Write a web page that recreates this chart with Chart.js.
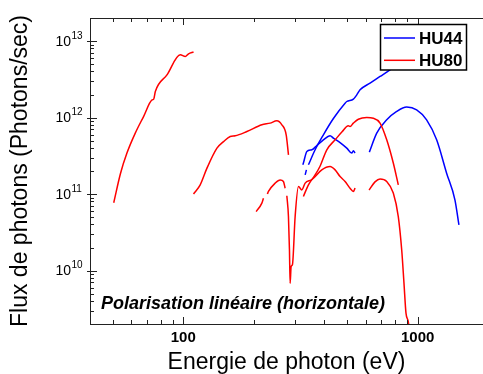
<!DOCTYPE html>
<html>
<head>
<meta charset="utf-8">
<script src="https://cdn.jsdelivr.net/npm/chart.js@4/dist/chart.umd.min.js"></script>
<style>
  html, body { margin: 0; padding: 0; background: #fff; }
  canvas { display: block; }
</style>
</head>
<body>
<canvas id="fluxChart" width="483" height="374"></canvas>
<script>
// axis limits
const xRange = [40, 1900];
const yRange = [2e9, 2e13];

// ticks and labels
const xMajorTicks = [100, 1000];
const xMinorTicks = [50, 60, 70, 80, 90, 200, 300, 400, 500, 600, 700, 800, 900];
const xTickLabels = ['100', '1000'];
const yMajorTicks = [1e10, 1e11, 1e12, 1e13];
const yMinorTicks = [3e9, 4e9, 5e9, 6e9, 7e9, 8e9, 9e9,
    2e10, 3e10, 4e10, 5e10, 6e10, 7e10, 8e10, 9e10,
    2e11, 3e11, 4e11, 5e11, 6e11, 7e11, 8e11, 9e11,
    2e12, 3e12, 4e12, 5e12, 6e12, 7e12, 8e12, 9e12];
const yTickExponents = ['10', '11', '12', '13'];

const seriesNames = ['HU44', 'HU80'];
const seriesColors = ['#0000ff', '#ff0000'];

// HU80 segments: energy (eV) / flux (photons/s)
const hu80_1_E = [50.5, 54.0, 57.5, 62.4, 67.7, 73.6, 74.8, 76.0, 85.2, 97.1, 102, 105.3, 110.6];
const hu80_1_F = [7.7e10, 1.87e11, 3.43e11, 6.25e11, 1.03e12, 1.70e12, 1.74e12, 2.19e12, 3.61e12, 6.6e12, 6.27e12, 6.81e12, 7.2e12];

const hu80_2_E = [110.6, 118.1, 126.2, 139.2, 148.5, 158.6, 166.6, 186.8, 216.4, 234.8, 250.7, 263.4, 274.8, 281.1];
const hu80_2_F = [1.0e11, 1.32e11, 2.18e11, 3.98e11, 4.85e11, 5.65e11, 5.77e11, 6.56e11, 8.03e11, 8.45e11, 9.06e11, 8.03e11, 5.94e11, 3.25e11];

const hu80_3a_E = [204.7, 216.4, 219.8];
const hu80_3a_F = [5.9e10, 7.6e10, 8.8e10];

const hu80_3b_E = [228.5, 230.9, 246.6, 259.0, 267.5, 272.0];
const hu80_3b_F = [1.0e11, 1.08e11, 1.39e11, 1.53e11, 1.46e11, 1.19e11];

const hu80_3c_E = [276.6, 281.0, 283.8, 285.7, 288.5, 292.2, 300.1, 310.0, 320.5, 331.1, 352.0, 359.2, 389.9, 423.0, 444.4, 466.7, 490.1, 514.7, 531.7, 540.7];
const hu80_3c_F = [9.5e10, 5.08e10, 1.87e10, 6.8e9, 1.13e10, 1.19e10, 5.08e10, 1.25e11, 1.13e11, 1.39e11, 1.53e11, 1.61e11, 2.07e11, 2.29e11, 2.07e11, 1.69e11, 1.46e11, 1.19e11, 1.08e11, 1.2e11];

const hu80_4_E = [325.5, 342.0, 365.2, 382.8, 409.6, 444.4, 475.9, 506.2, 514.7, 531.7, 558.4, 606.5, 646.9, 691.0, 737.9, 787.1, 826.7];
const hu80_4_F = [9.3e10, 1.32e11, 1.78e11, 2.29e11, 3.79e11, 5.11e11, 6.5e11, 7.8e11, 7.63e11, 8.45e11, 9.5e11, 1.0e12, 9.8e11, 8.45e11, 5.11e11, 2.54e11, 1.32e11];

const hu80_5_E = [620.3, 657.7, 691.0, 737.9, 787.1, 826.7, 854.8, 874.3, 891.6, 912, 925];
const hu80_5_F = [1.13e11, 1.44e11, 1.57e11, 1.46e11, 1.03e11, 5.08e10, 1.87e10, 6.8e9, 2.77e9, 2.15e9, 1.5e9];

// HU44 segments
const hu44_1a_E = [331.1, 335.3];
const hu44_1a_F = [1.78e11, 2.07e11];

const hu44_1b_E = [342.0, 365.2, 396.1, 437.0, 490.1, 498.4, 531.7, 549.8, 567.9, 626.4, 691.0, 762.1, 840.6, 973.8];
const hu44_1b_F = [2.41e11, 3.79e11, 5.94e11, 9.7e11, 1.54e12, 1.62e12, 1.74e12, 1.98e12, 2.30e12, 2.82e12, 3.44e12, 4.20e12, 5.2e12, 6.6e12];

const hu44_2_E = [323.6, 325.5, 336.7, 353.6, 371.3, 396.1, 423.0, 437.0, 466.7, 498.4, 523.4, 531.7, 540.7];
const hu44_2_F = [2.41e11, 2.54e11, 3.60e11, 3.79e11, 4.3e11, 5.11e11, 5.77e11, 5.38e11, 4.71e11, 3.98e11, 3.43e11, 3.67e11, 3.43e11];

const hu44_3_E = [622.1, 668.9, 737.9, 813.8, 897.8, 990, 1092, 1205, 1329, 1442, 1500];
const hu44_3_F = [3.53e11, 6.25e11, 9.33e11, 1.20e12, 1.37e12, 1.26e12, 9.33e11, 5.11e11, 1.87e11, 8.4e10, 3.95e10];

const annotationText = 'Polarisation linéaire (horizontale)';
const FONT = '"Liberation Sans", Arial, Helvetica, sans-serif';

function seg(E, F, color) {
    return {
        data: E.map((x, i) => ({ x, y: F[i] })),
        borderColor: color,
        borderWidth: 1.5,
        pointRadius: 0,
        fill: false,
        cubicInterpolationMode: 'monotone',
    };
}

const datasets = [
    seg(hu80_1_E, hu80_1_F, seriesColors[1]),
    seg(hu80_2_E, hu80_2_F, seriesColors[1]),
    seg(hu80_3a_E, hu80_3a_F, seriesColors[1]),
    seg(hu80_3b_E, hu80_3b_F, seriesColors[1]),
    seg(hu80_3c_E, hu80_3c_F, seriesColors[1]),
    seg(hu80_4_E, hu80_4_F, seriesColors[1]),
    seg(hu80_5_E, hu80_5_F, seriesColors[1]),
    seg(hu44_1a_E, hu44_1a_F, seriesColors[0]),
    seg(hu44_1b_E, hu44_1b_F, seriesColors[0]),
    seg(hu44_2_E, hu44_2_F, seriesColors[0]),
    seg(hu44_3_E, hu44_3_F, seriesColors[0]),
];

// inward tick marks, superscript labels, annotation and boxed legend
const decor = {
    id: 'decor',
    afterDraw(chart) {
        const { ctx, chartArea: a, scales: { x, y } } = chart;
        ctx.save();
        ctx.strokeStyle = '#222';
        ctx.lineWidth = 1;
        ctx.beginPath();
        xMajorTicks.concat(xMinorTicks).forEach((v) => {
            const len = xMajorTicks.includes(v) ? 7 : 4;
            const px = Math.round(x.getPixelForValue(v)) + 0.5;
            ctx.moveTo(px, a.bottom); ctx.lineTo(px, a.bottom - len);
            ctx.moveTo(px, a.top); ctx.lineTo(px, a.top + len);
        });
        yMajorTicks.forEach((v) => {
            const py = Math.round(y.getPixelForValue(v)) + 0.5;
            ctx.moveTo(a.left - 3, py); ctx.lineTo(a.left + 7, py);
        });
        yMinorTicks.forEach((v) => {
            const py = Math.round(y.getPixelForValue(v)) + 0.5;
            ctx.moveTo(a.left, py); ctx.lineTo(a.left + 4, py);
        });
        ctx.stroke();

        ctx.fillStyle = '#000';
        ctx.textBaseline = 'middle';
        ctx.textAlign = 'center';
        ctx.font = 'bold 15px ' + FONT;
        xMajorTicks.forEach((v, i) => {
            ctx.fillText(xTickLabels[i], x.getPixelForValue(v), a.bottom + 14);
        });

        yMajorTicks.forEach((v, i) => {
            const py = y.getPixelForValue(v);
            ctx.textAlign = 'left';
            ctx.font = '10px ' + FONT;
            ctx.fillText(yTickExponents[i], 71.5, py - 5);
            ctx.textAlign = 'right';
            ctx.font = '14px ' + FONT;
            ctx.fillText('10', 71, py + 1);
        });

        ctx.textAlign = 'left';
        ctx.font = 'italic bold 18px ' + FONT;
        ctx.fillText(annotationText, 101, 304);

        // legend box
        ctx.fillStyle = '#fff';
        ctx.fillRect(380, 24, 87, 46);
        ctx.lineWidth = 1.5;
        ctx.strokeStyle = '#000';
        ctx.strokeRect(380.5, 24.5, 86, 45.5);
        ctx.font = 'bold 17px ' + FONT;
        seriesNames.forEach((name, i) => {
            const ly = 38 + i * 22.3;
            ctx.strokeStyle = seriesColors[i];
            ctx.lineWidth = 1.5;
            ctx.beginPath();
            ctx.moveTo(384, ly); ctx.lineTo(415, ly);
            ctx.stroke();
            ctx.fillStyle = '#000';
            ctx.fillText(name, 419, ly + 1);
        });
        ctx.restore();
    },
};

const axisBorder = { display: true, color: '#222', width: 1 };

new Chart(document.getElementById('fluxChart'), {
    type: 'line',
    data: { datasets },
    options: {
        responsive: false,
        animation: false,
        layout: { padding: 0 },
        plugins: { legend: { display: false }, tooltip: { enabled: false } },
        scales: {
            x: {
                type: 'logarithmic', position: 'bottom', min: xRange[0], max: xRange[1],
                ticks: { display: false }, grid: { display: false }, border: axisBorder,
                title: {
                    display: true, text: 'Energie de photon (eV)', color: '#000',
                    font: { family: FONT, size: 23, lineHeight: 1 }, padding: { top: 0, bottom: 0 },
                },
                afterFit(s) { s.height = 50; },
            },
            xTop: {
                axis: 'x', type: 'logarithmic', position: 'top', min: xRange[0], max: xRange[1],
                ticks: { display: false }, grid: { display: false }, border: axisBorder,
                afterFit(s) { s.height = 18; },
            },
            y: {
                type: 'logarithmic', min: yRange[0], max: yRange[1],
                ticks: { display: false }, grid: { display: false }, border: axisBorder,
                title: {
                    display: true, text: 'Flux de photons (Photons/sec)', color: '#000',
                    font: { family: FONT, size: 23, lineHeight: 1 }, padding: { top: 9, bottom: 0 },
                },
                afterFit(s) { s.width = 90; },
            },
        },
    },
    plugins: [decor],
});
</script>
</body>
</html>
